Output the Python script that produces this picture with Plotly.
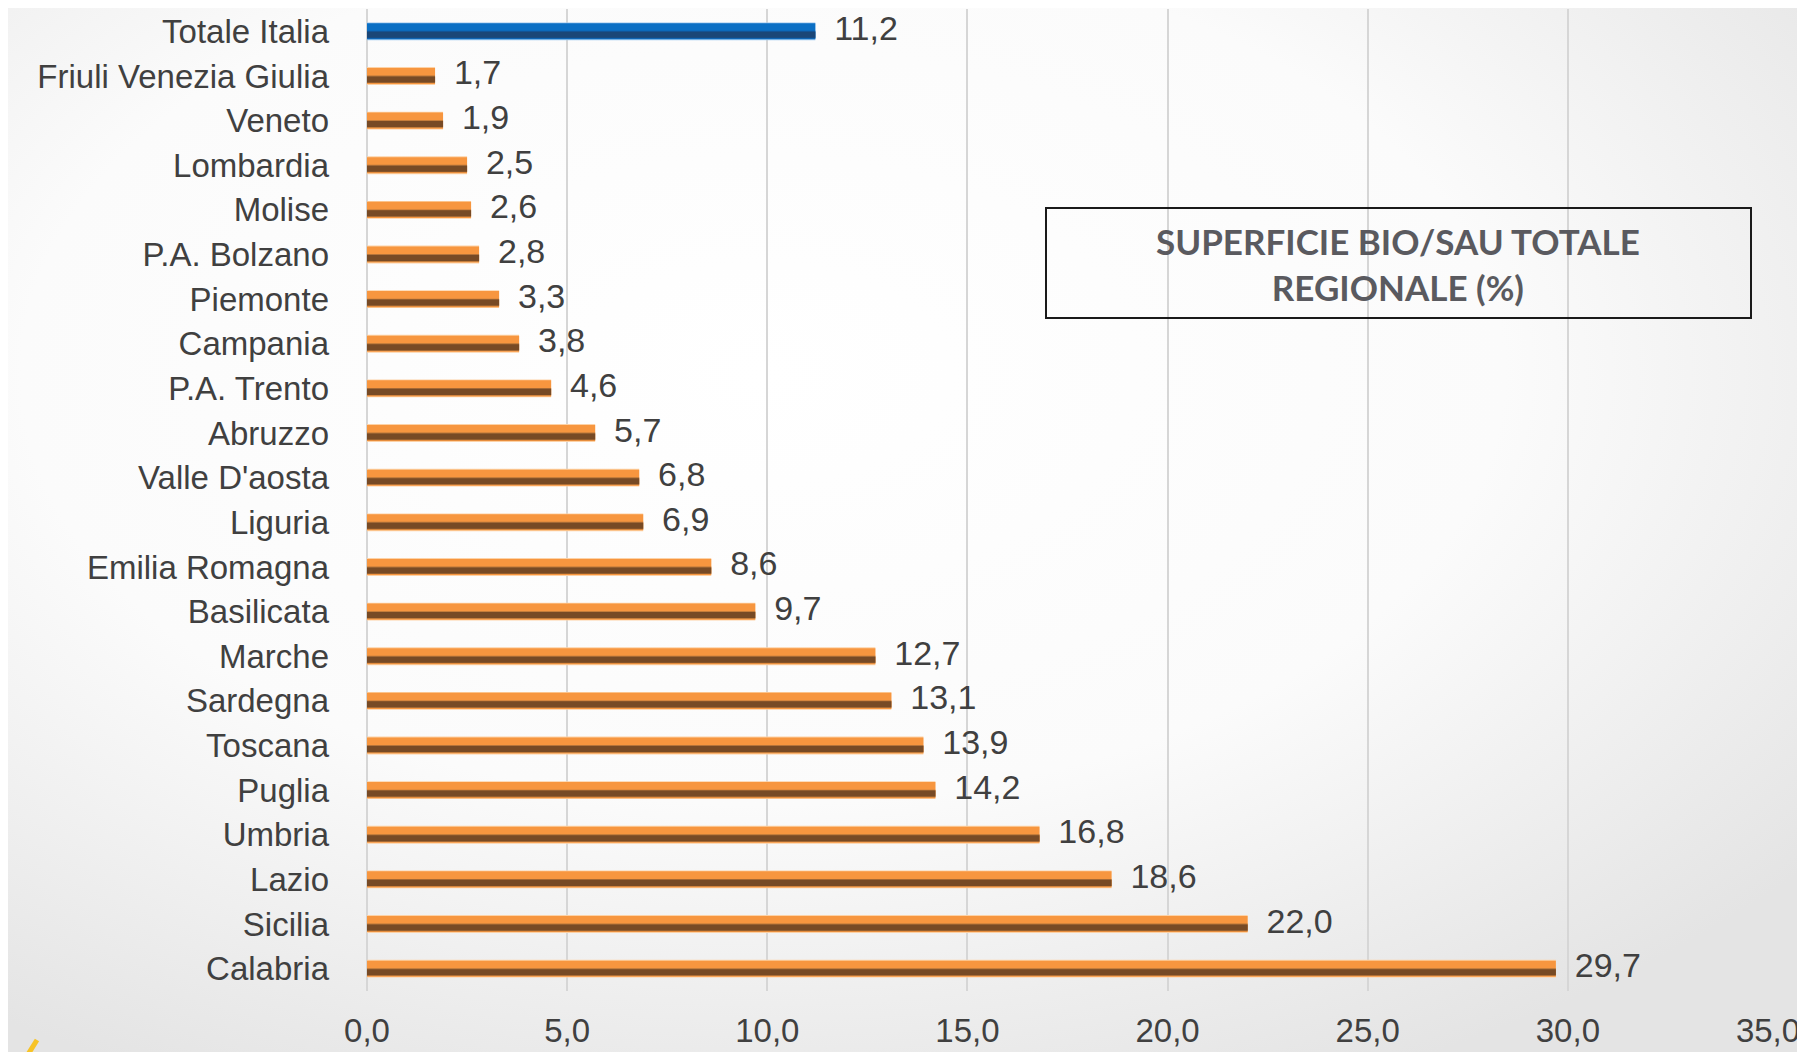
import base64
import plotly.graph_objects as go

# ---- data (top to bottom as in the chart) ----
regions = ["Totale Italia", "Friuli Venezia Giulia", "Veneto", "Lombardia", "Molise",
           "P.A. Bolzano", "Piemonte", "Campania", "P.A. Trento", "Abruzzo",
           "Valle D'aosta", "Liguria", "Emilia Romagna", "Basilicata", "Marche",
           "Sardegna", "Toscana", "Puglia", "Umbria", "Lazio", "Sicilia", "Calabria"]
values = [11.2, 1.7, 1.9, 2.5, 2.6, 2.8, 3.3, 3.8, 4.6, 5.7, 6.8, 6.9, 8.6, 9.7,
          12.7, 13.1, 13.9, 14.2, 16.8, 18.6, 22.0, 29.7]
x_ticks = [0, 5, 10, 15, 20, 25, 30, 35]
box_title = "SUPERFICIE BIO/SAU TOTALE<br>REGIONALE (%)"

# the page body has an 8px margin, so the figure is drawn 8px right/down
OFF = 8
W, H = 1805 - OFF, 1052 - OFF
ML, MR, MT, MB = 367 - OFF, 37, 9 - OFF, 61
PW, PH = W - ML - MR, H - MT - MB


def px_x(p):  # screen px -> paper
    return (p - OFF - ML) / PW


def px_y(p):
    return 1 - (p - OFF - MT) / PH


is_total = [r == "Totale Italia" for r in regions]
edge_c = ["#9CC6EE" if t else "#FDD2A6" for t in is_total]
main_c = ["#0B6FC4" if t else "#F7963F" for t in is_total]
mid_c = ["#12599F" if t else "#B5743A" for t in is_total]
dark_c = ["#1B4677" if t else "#774A25" for t in is_total]

fig = go.Figure()
layers = [(-0.20, 0.40, edge_c), (-0.18, 0.36, main_c),
          (-0.16, 0.17, mid_c), (-0.145, 0.135, dark_c)]
for off, wd, col in layers:
    fig.add_trace(go.Bar(y=regions, x=values, orientation="h", width=wd, offset=off,
                         marker=dict(color=col, line=dict(width=0)),
                         hoverinfo="skip", showlegend=False))

fig.add_trace(go.Scatter(y=regions, x=values, mode="text",
                         texttemplate="\u00a0\u00a0%{x:.1f}", textposition="middle right",
                         textfont=dict(family="Liberation Sans, Arial", size=34, color="#404040"),
                         hoverinfo="skip", showlegend=False, cliponaxis=False))

# background gradient
svg = ('<svg xmlns="http://www.w3.org/2000/svg" width="1805" height="1052">'
       '<defs><radialGradient id="g" cx="0.42" cy="0.35" r="0.75">'
       '<stop offset="0" stop-color="#ffffff"/><stop offset="0.55" stop-color="#fbfbfb"/>'
       '<stop offset="1" stop-color="#e4e4e4"/></radialGradient></defs>'
       '<rect width="1805" height="1052" fill="url(#g)"/></svg>')
src = "data:image/svg+xml;base64," + base64.b64encode(svg.encode()).decode()

fig.update_layout(
    width=W, height=H,
    margin=dict(l=ML, r=MR, t=MT, b=MB, pad=0),
    barmode="overlay",
    separators=",.",
    paper_bgcolor="#f6f6f6",
    plot_bgcolor="rgba(0,0,0,0)",
    font=dict(family="Liberation Sans, Arial", size=33, color="#404040"),
    images=[dict(source=src, xref="paper", yref="paper", x=-ML / PW, y=1 + MT / PH,
                 sizex=W / PW, sizey=H / PH, xanchor="left", yanchor="top",
                 sizing="stretch", layer="below")],
    xaxis=dict(range=[0, 35], tickvals=x_ticks, tickformat=".1f",
               showgrid=True, gridcolor="#d6d6d6", gridwidth=2,
               zeroline=True, zerolinecolor="#d6d6d6", zerolinewidth=2,
               showline=False, ticks="", ticklabelstandoff=17,
               tickfont=dict(size=33, color="#404040")),
    yaxis=dict(categoryorder="array", categoryarray=list(reversed(regions)),
               range=[-0.5, len(regions) - 0.5],
               showgrid=False, zeroline=False, showline=False, ticks="",
               ticklabelstandoff=37, tickfont=dict(size=33, color="#404040")),
    shapes=[
        dict(type="rect", xref="paper", yref="paper",
             x0=px_x(1046), x1=px_x(1751), y0=px_y(208), y1=px_y(318),
             line=dict(color="#1a1a1a", width=2), fillcolor="rgba(0,0,0,0)", layer="above"),
        dict(type="line", xref="paper", yref="paper",
             x0=px_x(27), y0=px_y(1056), x1=px_x(37), y1=px_y(1040),
             line=dict(color="#F7C326", width=5)),
    ],
    annotations=[dict(text=box_title, xref="paper", yref="paper",
                      x=px_x(1398), y=px_y(264), xanchor="center", yanchor="middle",
                      showarrow=False, align="center",
                      font=dict(family="Lato, Open Sans", size=35, color="#5a5a5f",
                                weight="bold"))],
)

fig.write_html("out.html")
